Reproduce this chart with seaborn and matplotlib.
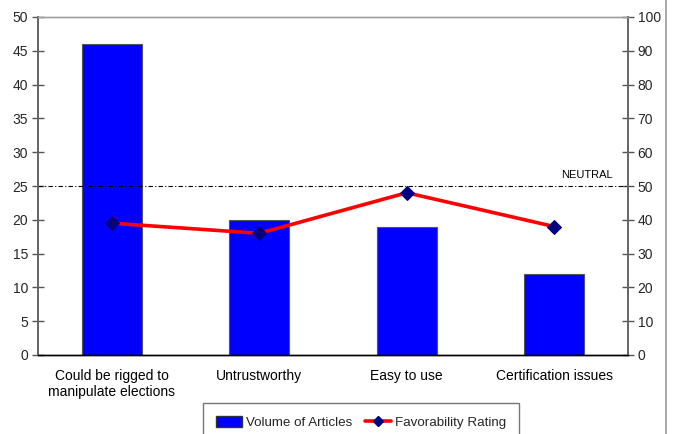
import numpy as np
import pandas as pd
import matplotlib
matplotlib.use("Agg")
import matplotlib.pyplot as plt
from matplotlib.lines import Line2D
from matplotlib.patches import Patch
import seaborn as sns

categories = ["Could be rigged to\nmanipulate elections", "Untrustworthy",
              "Easy to use", "Certification issues"]
volume = [46, 20, 19, 12]
favorability = [39, 36, 48, 38]
left_ticks = list(range(0, 51, 5))
right_ticks = list(range(0, 101, 10))
neutral_level = 50

sns.set_theme(style="white")
plt.rcParams["font.family"] = ["Liberation Sans", "DejaVu Sans"]
plt.rcParams["font.size"] = 10

fig = plt.figure(figsize=(6.73, 4.34), dpi=100)
ax = fig.add_axes([38 / 673, 1 - 355 / 434, 590 / 673, 338 / 434])

df = pd.DataFrame({"category": categories, "volume": volume, "fav": favorability})
sns.barplot(data=df, x="category", y="volume", color="#0000FF", saturation=1,
            width=0.41, edgecolor="#555555", linewidth=0.8, ax=ax)

ax.set_xlim(-0.5, len(categories) - 0.5)
ax.set_ylim(0, 50)
ax.set_yticks(left_ticks)
ax.set_xlabel("")
ax.set_ylabel("")
ax.tick_params(axis="x", which="major", length=0, pad=10, labelsize=10, colors="black")
ax.set_xticks(np.arange(len(categories) - 1) + 0.5, minor=True)
ax.tick_params(axis="x", which="minor", length=8, direction="inout", width=1, color="#333333")
ax.tick_params(axis="y", length=8, direction="inout", width=1, color="#555555",
               labelsize=10, pad=3)

ax2 = ax.twinx()
pos = np.arange(len(categories))
sns.lineplot(x=pos, y=df["fav"], color="#FF0000", linewidth=2.6, marker="D",
             markersize=7, markerfacecolor="#000080", markeredgecolor="#000080",
             ax=ax2, zorder=5)
ax2.axhline(neutral_level, color="black", linestyle=(0, (4, 2, 1, 2)), linewidth=0.8)
ax2.text(len(categories) - 0.6, neutral_level + 1.8, "NEUTRAL", fontsize=8,
         ha="right", va="bottom", color="black")
ax2.set_ylim(0, 100)
ax2.set_yticks(right_ticks)
ax2.set_ylabel("")
ax2.tick_params(axis="y", length=8, direction="inout", width=1, color="#555555",
                labelsize=10, pad=3)

for a in (ax, ax2):
    a.spines["top"].set_color("#a0a0a0")
    a.spines["top"].set_linewidth(1)
    a.spines["left"].set_color("#666666")
    a.spines["left"].set_linewidth(1.3)
    a.spines["right"].set_color("#666666")
    a.spines["right"].set_linewidth(1.3)
    a.spines["bottom"].set_color("black")
    a.spines["bottom"].set_linewidth(1)
    a.grid(False)

handles = [Patch(facecolor="#0000FF", edgecolor="#333333", label="Volume of Articles"),
           Line2D([0], [0], color="#FF0000", linewidth=2.6, marker="D", markersize=5.5,
                  markerfacecolor="#000080", markeredgecolor="#000080",
                  label="Favorability Rating")]
fig.legend(handles=handles, loc="upper left", bbox_to_anchor=(203 / 673, 1 - 403 / 434),
           ncol=2, frameon=True, fancybox=False, edgecolor="#555555", fontsize=9.6,
           handlelength=1.9, handleheight=0.9, columnspacing=1.0, borderpad=1.0,
           borderaxespad=0, handletextpad=0.3)

fig.add_artist(Line2D([666 / 673, 666 / 673], [0, 1], color="#999999", linewidth=1.2))

fig.savefig("out.png", dpi=100)
